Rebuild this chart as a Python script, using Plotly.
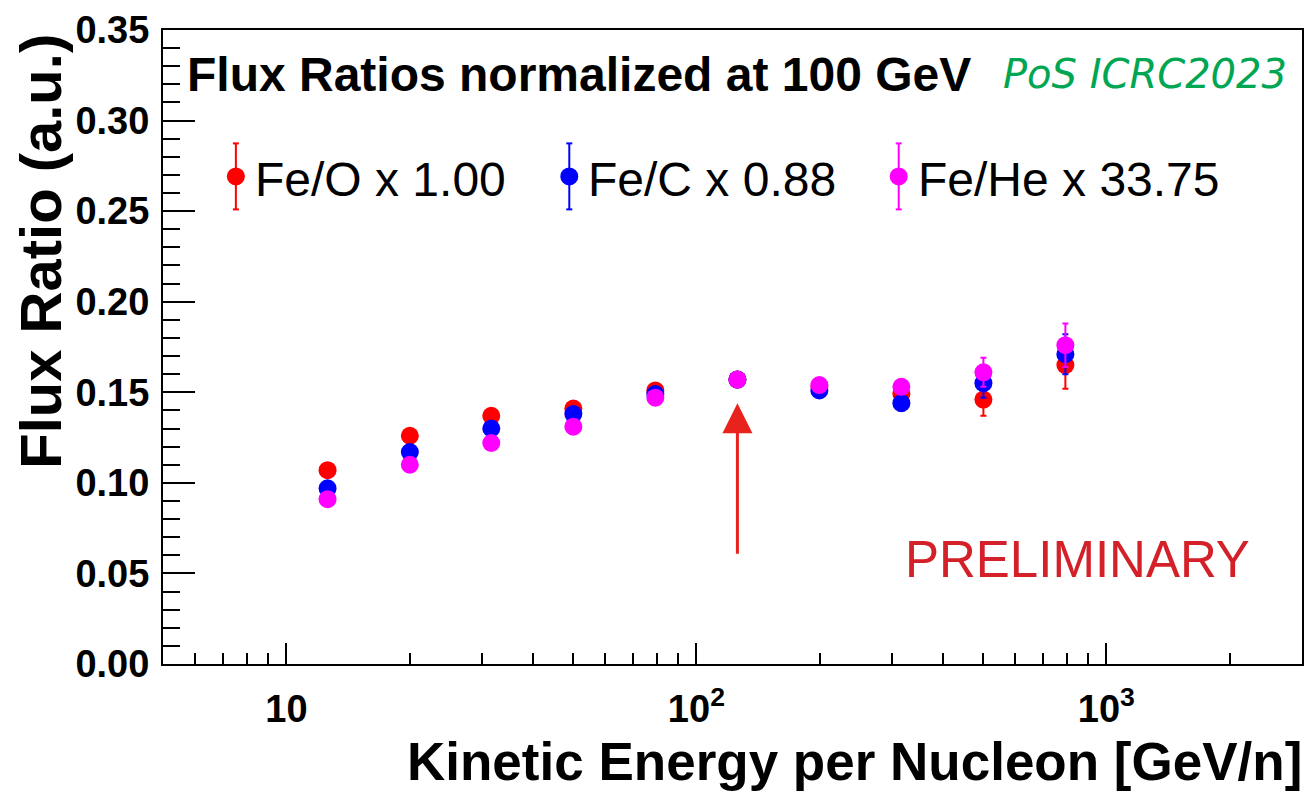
import math
import plotly.graph_objects as go

# ---------------- data ----------------
energy = [12.6, 20.0, 31.6, 50.1, 79.4, 125.9, 199.5, 316.2, 501.2, 794.3]
fe_o = [0.107, 0.126, 0.137, 0.141, 0.151, 0.157, 0.153, 0.149, 0.146, 0.165]
fe_c = [0.097, 0.117, 0.130, 0.138, 0.149, 0.157, 0.151, 0.144, 0.155, 0.171]
fe_he = [0.091, 0.110, 0.122, 0.131, 0.147, 0.157, 0.154, 0.153, 0.161, 0.176]
err_o = [0.002, 0.002, 0.002, 0.002, 0.003, 0.003, 0.003, 0.004, 0.009, 0.013]
err_c = [0.002, 0.002, 0.002, 0.002, 0.003, 0.003, 0.003, 0.004, 0.008, 0.011]
err_he = [0.002, 0.002, 0.002, 0.002, 0.003, 0.003, 0.003, 0.004, 0.008, 0.012]
names = ["Fe/O x 1.00", "Fe/C x 0.88", "Fe/He x 33.75"]
colors = ["#ff0000", "#0000ff", "#ff00ff"]
y_ticks = [0.00, 0.05, 0.10, 0.15, 0.20, 0.25, 0.30, 0.35]
x_ticks = [10, 100, 1000]
x_ticktext = ["10", "10<sup>2</sup>", "10<sup>3</sup>"]
x_minor = [6, 7, 8, 9, 20, 30, 40, 50, 60, 70, 80, 90,
           200, 300, 400, 500, 600, 700, 800, 900, 2000]
y_minor = [i / 100 for i in range(0, 36)]
norm_energy = energy[5]

# ---------------- layout geometry ----------------
W, H = 1313, 795
L, R, T, B = 163, 1304, 23, 664


def px(x):
    return (x - L) / (R - L)


def py(y):
    return (B - y) / (B - T)


FONT = "Liberation Sans, Arial, Helvetica, sans-serif"

fig = go.Figure()
series = [(fe_o, err_o), (fe_c, err_c), (fe_he, err_he)]
for (vals, errs), name, col in zip(series, names, colors):
    fig.add_trace(go.Scatter(
        x=energy, y=vals, name=name, mode="markers",
        marker=dict(color=col, size=18, line=dict(width=0)),
        error_y=dict(type="data", array=errs, visible=True, color=col,
                     thickness=2, width=3),
        showlegend=False,
    ))

shapes = []
annotations = []

# manual legend (ROOT style)
leg_x = [236, 570, 900]
leg_y = 171
for name, col, lx in zip(names, colors, leg_x):
    shapes.append(dict(type="line", xref="paper", yref="paper",
                       x0=px(lx), x1=px(lx), ysizemode="pixel", yanchor=py(leg_y),
                       y0=-33, y1=33, line=dict(color=col, width=2)))
    for dy in (-33, 33):
        shapes.append(dict(type="line", xref="paper", yref="paper",
                           xsizemode="pixel", xanchor=px(lx), x0=-3, x1=3,
                           ysizemode="pixel", yanchor=py(leg_y), y0=dy, y1=dy,
                           line=dict(color=col, width=2)))
    shapes.append(dict(type="circle", xref="paper", yref="paper",
                       xsizemode="pixel", ysizemode="pixel",
                       xanchor=px(lx), yanchor=py(leg_y),
                       x0=-9, x1=9, y0=-9, y1=9,
                       fillcolor=col, line=dict(width=0)))
    annotations.append(dict(text=name, xref="paper", yref="paper",
                            x=px(lx + 17), y=py(leg_y + 3), xanchor="left", yanchor="middle",
                            showarrow=False, font=dict(family=FONT, size=48, color="black")))

# title inside frame
annotations.append(dict(text="<b>Flux Ratios normalized at 100 GeV</b>", xref="paper", yref="paper",
                        x=px(185), y=py(68), xanchor="left", yanchor="middle", showarrow=False,
                        font=dict(family=FONT, size=48, color="black")))
# PoS label
annotations.append(dict(text="<i>PoS ICRC2023</i>", xref="paper", yref="paper",
                        x=px(1002), y=py(67), xanchor="left", yanchor="middle", showarrow=False,
                        font=dict(family="DejaVu Sans", size=40, color="#00a651")))
# preliminary
annotations.append(dict(text="PRELIMINARY", xref="paper", yref="paper",
                        x=px(904), y=py(558), xanchor="left", yanchor="middle", showarrow=False,
                        font=dict(family=FONT, size=51, color="#d42028")))
# arrow pointing to normalisation point
annotations.append(dict(text="", x=math.log10(norm_energy), y=0.144, xref="x", yref="y",
                        ax=math.log10(norm_energy), ay=0.060, axref="x", ayref="y",
                        showarrow=True, arrowhead=2, arrowsize=2, arrowwidth=3,
                        arrowcolor="#e8221c", standoff=0, startstandoff=0))
# axis titles (ROOT right/top aligned)
annotations.append(dict(text="<b>Kinetic Energy per Nucleon [GeV/n]</b>", xref="paper", yref="paper",
                        x=px(1306), y=py(763), xanchor="right", yanchor="middle", showarrow=False,
                        font=dict(family=FONT, size=53, color="black")))
annotations.append(dict(text="<b>Flux Ratio (a.u.)</b>", xref="paper", yref="paper",
                        x=px(40), y=py(247), xanchor="center", yanchor="middle", showarrow=False,
                        textangle=-90,
                        font=dict(family=FONT, size=58, color="black")))

fig.update_layout(
    width=W, height=H,
    margin=dict(l=L, r=W - R, t=T, b=H - B, pad=0),
    paper_bgcolor="white", plot_bgcolor="white",
    shapes=shapes, annotations=annotations,
    showlegend=False,
)
fig.update_xaxes(
    type="log", range=[math.log10(5), math.log10(3000)],
    tickmode="array", tickvals=x_ticks, ticktext=x_ticktext,
    ticks="inside", ticklen=21, tickwidth=2, tickcolor="black",
    minor=dict(tickmode="array", tickvals=x_minor, ticks="inside", ticklen=11,
               tickwidth=1.5, tickcolor="black", showgrid=False),
    showline=True, linecolor="black", linewidth=2, mirror=True,
    showgrid=False, zeroline=False,
    tickfont=dict(family=FONT, size=38, color="black", weight="bold"),
    ticklabelstandoff=10,
)
fig.update_yaxes(
    range=[0, 0.35], tickmode="array", tickvals=y_ticks,
    ticktext=[f"{v:.2f}" for v in y_ticks],
    ticks="inside", ticklen=32, tickwidth=2, tickcolor="black",
    minor=dict(tickmode="array", tickvals=y_minor, ticks="inside", ticklen=17,
               tickwidth=1.5, tickcolor="black", showgrid=False),
    showline=True, linecolor="black", linewidth=2, mirror=True,
    showgrid=False, zeroline=False,
    tickfont=dict(family=FONT, size=38, color="black", weight="bold"),
    ticklabelstandoff=4,
)

fig.write_html("out.html")
